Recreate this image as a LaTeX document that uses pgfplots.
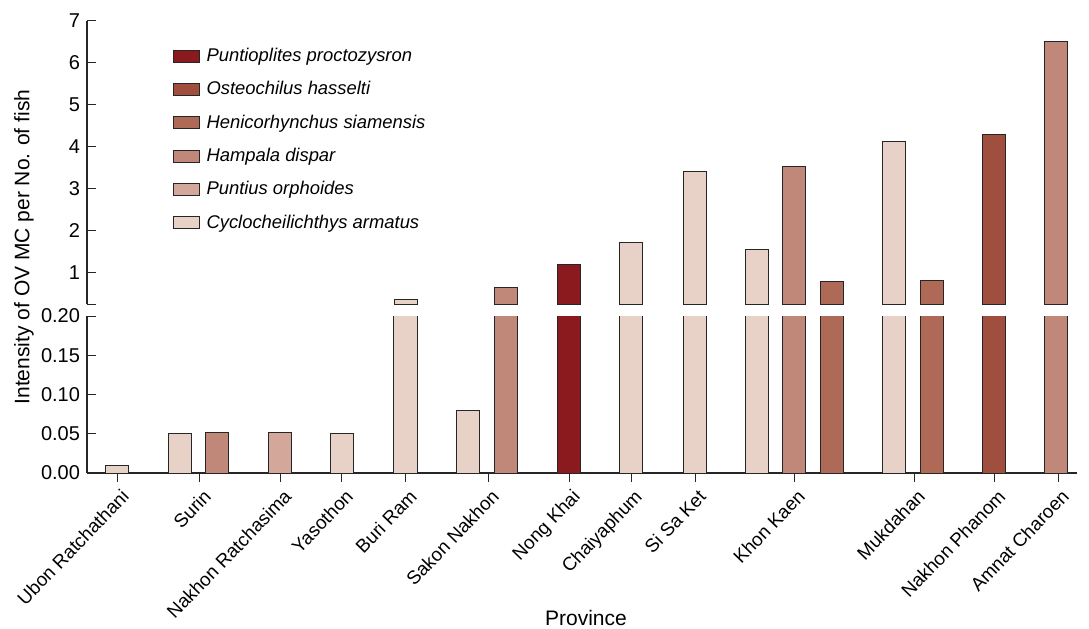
\documentclass[border=0pt]{standalone}
\usepackage{pgfplots}
\pgfplotsset{compat=1.18}
\usepackage{fontspec}
\setmainfont{Liberation Sans}
\definecolor{cA}{HTML}{8B1A1F}
\definecolor{cB}{HTML}{A04E3E}
\definecolor{cC}{HTML}{AE6A57}
\definecolor{cD}{HTML}{BF8878}
\definecolor{cE}{HTML}{D3A79A}
\definecolor{cF}{HTML}{E8D2C8}
\pgfplotsset{
  mybar/.style={ybar, bar width=23, bar shift=0pt, fill=#1, draw=black!85, line width=0.5pt,
    legend image code/.code={\draw[##1] (0pt,-3pt) rectangle (13pt,3pt);}},
  common/.style={scale only axis, width=495pt, xmin=87, xmax=1077,
    axis y line*=left, axis line style={black!85, line width=0.6pt, -},
    tick style={black!85, line width=0.5pt},
    ytick align=inside,
    tick label style={font=\fontsize{10}{12}\selectfont},
    /pgf/number format/assume math mode=true, clip=true},
}
\pgfplotstableread{
x y
569 1.19
}\tA
\pgfplotstableread{
x y
994 4.29
}\tB
\pgfplotstableread{
x y
831.5 0.79
932 0.81
}\tC
\pgfplotstableread{
x y
217.5 0.052
505.5 0.64
793.5 3.52
1056 6.50
}\tD
\pgfplotstableread{
x y
280.5 0.052
}\tE
\pgfplotstableread{
x y
117.5 0.01
180 0.05
342.5 0.05
405.5 0.36
467.5 0.08
631 1.71
694.5 3.40
756.5 1.55
894 4.12
}\tF
\begin{document}
\begin{tikzpicture}
% lower axis
\begin{axis}[common, at={(0pt,0pt)}, anchor=south west, height=78.5pt,
  ymin=0, ymax=0.2, ytick={0,0.05,0.10,0.15,0.20},
  yticklabel style={/pgf/number format/.cd, fixed, fixed zerofill, precision=2},
  axis x line*=bottom, xtick align=outside,
  xtick={118,200,280.5,342,406,488,569,631,695,794,914,994.5,1058},
  xticklabels={Ubon Ratchathani,Surin,Nakhon Ratchasima,Yasothon,Buri Ram,Sakon Nakhon,Nong Khai,Chaiyaphum,Si Sa Ket,Khon Kaen,Mukdahan,Nakhon Phanom,Amnat Charoen},
  xticklabel style={rotate=46, anchor=north east, font=\fontsize{9.4}{11}\selectfont, inner sep=1pt, yshift=-2pt, xshift=-0.5pt},
]
\addplot[mybar=cA] table[x=x,y=y] {\tA};
\addplot[mybar=cB] table[x=x,y=y] {\tB};
\addplot[mybar=cC] table[x=x,y=y] {\tC};
\addplot[mybar=cD] table[x=x,y=y] {\tD};
\addplot[mybar=cE] table[x=x,y=y] {\tE};
\addplot[mybar=cF] table[x=x,y=y] {\tF};
\end{axis}
% upper axis
\begin{axis}[common, at={(0pt,84.5pt)}, anchor=south west, height=141.5pt,
  ymin=0.25, ymax=7, ytick={1,2,3,4,5,6,7},
  extra y ticks={0.25}, extra y tick labels={},
  axis x line=none,
  restrict y to domain=0.25:100,
  legend style={at={(0.086,0.92)}, anchor=north west, draw=none, fill=none,
    font=\fontsize{9.2}{11}\selectfont\itshape, row sep=4.5pt, inner sep=0pt,
    nodes={inner xsep=3.5pt}},
  legend cell align=left,
]
\addlegendimage{mybar=cA}
\addlegendimage{mybar=cB}
\addlegendimage{mybar=cC}
\addlegendimage{mybar=cD}
\addlegendimage{mybar=cE}
\addlegendimage{mybar=cF}
\addplot[mybar=cA, forget plot] table[x=x,y=y] {\tA};
\addplot[mybar=cB, forget plot] table[x=x,y=y] {\tB};
\addplot[mybar=cC, forget plot] table[x=x,y=y] {\tC};
\addplot[mybar=cD, forget plot] table[x=x,y=y] {\tD};
\addplot[mybar=cF, forget plot] table[x=x,y=y] {\tF};
\legend{Puntioplites proctozysron,Osteochilus hasselti,Henicorhynchus siamensis,Hampala dispar,Puntius orphoides,Cyclocheilichthys armatus}
\end{axis}
\node[rotate=90, font=\fontsize{10.5}{12}\selectfont] at (-31.5pt,113pt) {Intensity of OV MC per No. of fish};
\node[font=\fontsize{10.5}{12}\selectfont] at (249.5pt,-72.5pt) {Province};
\pgfresetboundingbox
\path[use as bounding box] (-43.5pt,-77.5pt) rectangle (501pt,236.5pt);
\end{tikzpicture}
\end{document}
